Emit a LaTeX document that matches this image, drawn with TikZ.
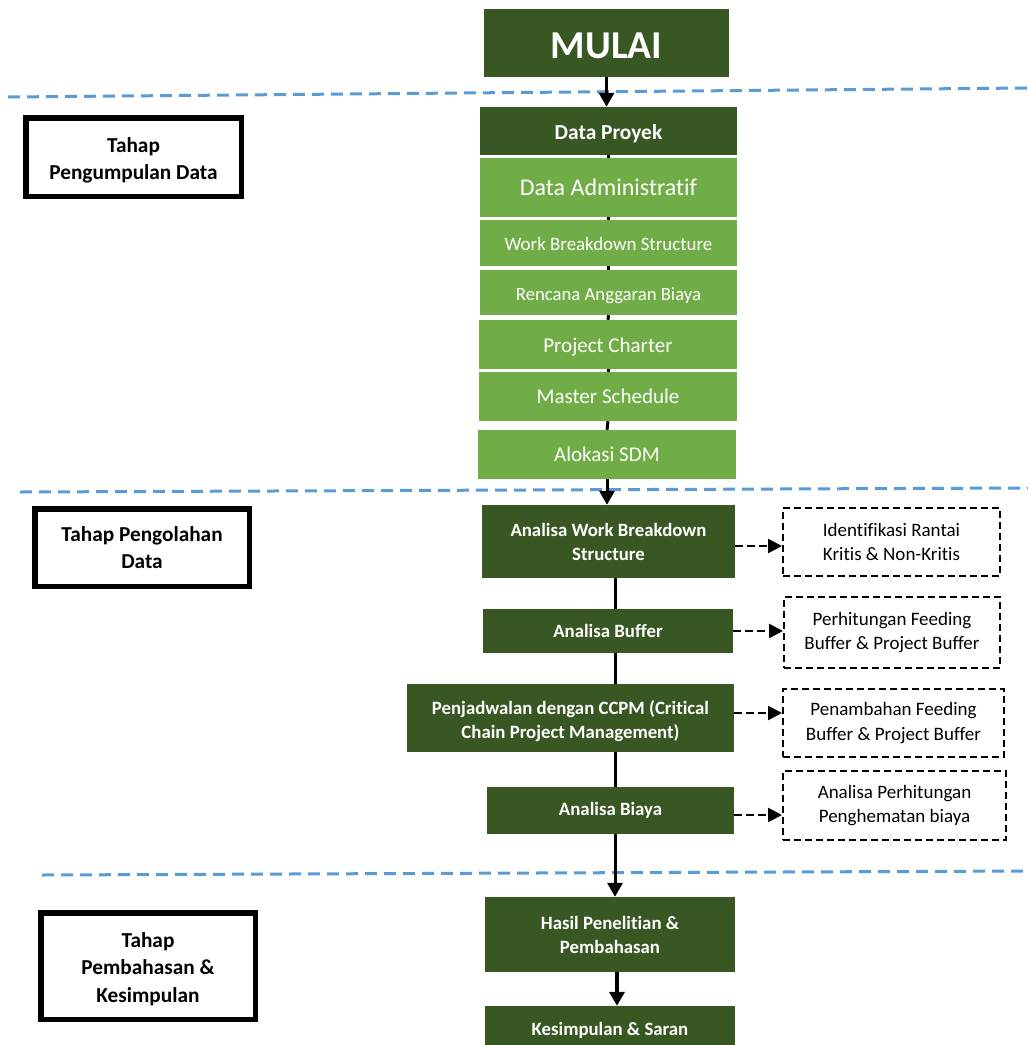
\documentclass[tikz,border=0pt]{standalone}
\usepackage{fontspec}
\setmainfont{Carlito}[Ligatures={TeX,NoCommon}]
\usetikzlibrary{arrows.meta,calc}
\definecolor{darkgreen}{HTML}{385723}
\definecolor{lightgreen}{HTML}{70AD47}
\definecolor{phaseblue}{HTML}{5B9BD5}

% invisible strut that lowers a line inside its box
\newcommand{\lift}[1]{\rule{0pt}{#1}}

\tikzset{
  darkbox/.style={fill=darkgreen, text=white, align=center, inner sep=0pt,
    font=\bfseries\fontsize{18.8}{24}\selectfont},
  lightbox/.style={fill=lightgreen, text=white, align=center, inner sep=0pt},
  notebox/.style={draw=black, line width=2pt, dash pattern=on 7pt off 4pt,
    fill=white, align=center, inner sep=0pt,
    font=\fontsize{19}{24.5}\selectfont},
  phasebox/.style={draw=black, line width=5.5pt, fill=white, align=center,
    inner sep=0pt, font=\bfseries\fontsize{21.3}{27.5}\selectfont},
  flow/.style={line width=3pt},
  flowarrow/.style={line width=3pt, -{Triangle[length=14pt,width=15pt]}},
  sidearrow/.style={line width=2.5pt, dash pattern=on 8pt off 4pt,
    -{Triangle[length=14pt,width=14pt]}},
  divider/.style={phaseblue, line width=3pt, dash pattern=on 12pt off 7pt},
}

\begin{document}
\begin{tikzpicture}[x=1pt, y=-1pt]
\useasboundingbox (0,0) rectangle (1028,1045);

% phase separators
\coordinate (d1a) at (8,97);   \coordinate (d1b) at (1028,88);
\coordinate (d2a) at (20,492); \coordinate (d2b) at (1028,488);
\coordinate (d3a) at (42,875); \coordinate (d3b) at (1028,871);
\draw[divider] (d1a) -- (d1b);
\draw[divider] (d2a) -- (d2b);
\draw[divider] (d3a) -- (d3b);

% phase labels
\node[phasebox, minimum width=215.5, minimum height=78.5] (p1) at (133.5,157)
  {\lift{21.7pt}Tahap\\Pengumpulan Data};
\node[phasebox, minimum width=214.5, minimum height=77.5] (p2) at (142,547.5)
  {Tahap Pengolahan\\Data};
\node[phasebox, minimum width=214.5, minimum height=106.5] (p3) at (148,966)
  {\lift{20.7pt}Tahap\\Pembahasan \&\\Kesimpulan};

% start
\node[darkbox, minimum width=245, minimum height=68,
  font=\bfseries\fontsize{39.5}{44}\selectfont] (start) at (606.5,43)
  {\lift{32pt}MULAI};

% data collection column
\node[darkbox, minimum width=257, minimum height=48,
  font=\bfseries\fontsize{21.4}{24}\selectfont] (proj) at (608.5,131)
  {\lift{20.8pt}Data Proyek};
\node[lightbox, minimum width=257, minimum height=59,
  font=\fontsize{24}{28}\selectfont] (adm) at (608.5,187.5) {Data Administratif};
\node[lightbox, minimum width=257, minimum height=46,
  font=\fontsize{18.9}{21}\selectfont] (wbs) at (608.5,243)
  {\lift{15pt}Work Breakdown Structure};
\node[lightbox, minimum width=257, minimum height=45,
  font=\fontsize{18.7}{21}\selectfont] (rab) at (608.5,292.5)
  {\lift{20pt}Rencana Anggaran Biaya};
\node[lightbox, minimum width=258, minimum height=49,
  font=\fontsize{21}{25}\selectfont] (charter) at (608,344.5)
  {\lift{19.5pt}Project Charter};
\node[lightbox, minimum width=258, minimum height=49,
  font=\fontsize{21}{25}\selectfont] (master) at (608,396.5) {Master Schedule};
\node[lightbox, minimum width=258, minimum height=49,
  font=\fontsize{21}{25}\selectfont] (sdm) at (607,454.5) {Alokasi SDM};

% processing column
\node[darkbox, minimum width=253, minimum height=73] (awbs) at (608.5,541.5)
  {Analisa Work Breakdown\\Structure};
\node[darkbox, minimum width=250, minimum height=44] (abuf) at (608,631)
  {Analisa Buffer};
\node[darkbox, minimum width=327, minimum height=68] (ccpm) at (570.5,718)
  {\lift{21pt}Penjadwalan dengan CCPM (Critical\\Chain Project Management)};
\node[darkbox, minimum width=247, minimum height=47] (abiaya) at (610.5,810.5)
  {Analisa Biaya};

% results column
\node[darkbox, minimum width=250, minimum height=75] (hasil) at (610,934.5)
  {Hasil Penelitian \&\\Pembahasan};
\node[darkbox, minimum width=250, minimum height=48] (simpul) at (610,1030)
  {Kesimpulan \& Saran};

% side notes
\node[notebox, minimum width=217, minimum height=68] (n1) at (891.5,542)
  {Identifikasi Rantai\\Kritis \& Non-Kritis};
\node[notebox, minimum width=216, minimum height=71] (n2) at (892,632.5)
  {Perhitungan Feeding\\Buffer \& Project Buffer};
\node[notebox, minimum width=221, minimum height=68] (n3) at (893.5,723)
  {Penambahan Feeding\\Buffer \& Project Buffer};
\node[notebox, minimum width=223, minimum height=69] (n4) at (894.5,805.5)
  {Analisa Perhitungan\\Penghematan biaya};

% main flow
\coordinate (spine) at (615,0);
\coordinate (spineb) at (617,0);
\draw[flowarrow] (start.south) -- (start.south |- proj.north);
\draw[flow] (proj.south) -- (adm.north);
\draw[flow] (adm.south) -- (wbs.north);
\draw[flow] (wbs.south) -- (rab.north);
\draw[flow] (rab.south) -- (charter.north);
\draw[flow] (charter.south) -- (master.north);
\draw[flow] (master.south) -- (sdm.north);
\draw[flowarrow] (sdm.south) -- (sdm.south |- awbs.north);
\draw[flow] (awbs.south -| spine) -- (abuf.north -| spine);
\draw[flow] (abuf.south -| spine) -- (ccpm.north -| spine);
\draw[flow] (ccpm.south -| spine) -- (abiaya.north -| spine);
\draw[flowarrow] (abiaya.south -| spine) -- (hasil.north -| spine);
\draw[flowarrow, line width=4.5pt] (hasil.south -| spineb) -- (simpul.north -| spineb);

% side arrows
\draw[sidearrow] ([yshift=-4.5pt]awbs.east) -- ([yshift=-4.5pt]awbs.east -| n1.west);
\draw[sidearrow] (abuf.east) -- (abuf.east -| n2.west);
\draw[sidearrow] ([yshift=5pt]ccpm.east) -- ([yshift=5pt]ccpm.east -| n3.west);
\draw[sidearrow] ([yshift=-4.5pt]abiaya.east) -- ([yshift=-4.5pt]abiaya.east -| n4.west);
\end{tikzpicture}
\end{document}
